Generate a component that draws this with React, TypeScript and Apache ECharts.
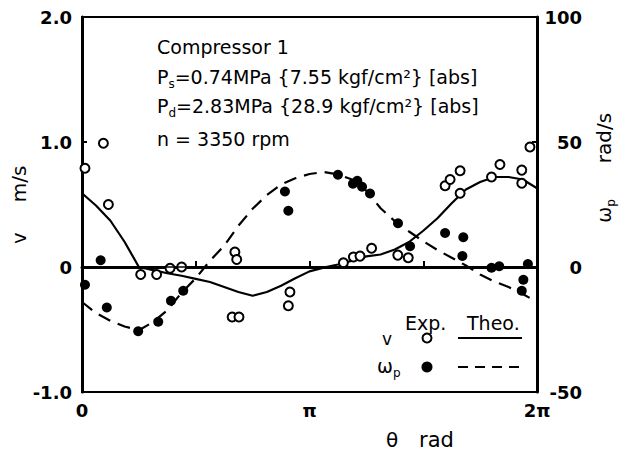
import React, { useEffect, useRef } from "react";
import * as echarts from "echarts";

// θ in units of π, theory curves sampled every π/16
const thetaTheo = [0, 0.0625, 0.125, 0.1875, 0.25, 0.3125, 0.375, 0.4375, 0.5, 0.5625, 0.625, 0.6875, 0.75, 0.8125, 0.875, 0.9375, 1.0, 1.0625, 1.125, 1.1875, 1.25, 1.3125, 1.375, 1.4375, 1.5, 1.5625, 1.625, 1.6875, 1.75, 1.8125, 1.875, 1.9375, 2.0];
const vTheo = [0.59, 0.49, 0.37, 0.20, 0.0, -0.025, -0.05, -0.07, -0.095, -0.12, -0.16, -0.20, -0.23, -0.20, -0.15, -0.09, -0.035, -0.005, 0.02, 0.05, 0.085, 0.10, 0.14, 0.20, 0.29, 0.39, 0.51, 0.62, 0.68, 0.72, 0.72, 0.70, 0.63];
const wTheo = [-14, -18.5, -21.5, -23.8, -25.3, -22, -17.3, -10.3, -4.5, 2.5, 8.5, 16.5, 23.3, 28.8, 33, 35.5, 37.2, 38, 37, 35, 30.5, 23.5, 18.3, 14.2, 10.3, 6.8, 3.7, 0.6, -3, -5.8, -8, -10.8, -14];

const thetaVExp = [0.013, 0.094, 0.116, 0.258, 0.328, 0.387, 0.438, 0.672, 0.680, 0.66, 0.69, 0.914, 0.907, 1.149, 1.193, 1.222, 1.273, 1.388, 1.434, 1.596, 1.618, 1.662, 1.662, 1.80, 1.837, 1.933, 1.933, 1.969];
const vExp = [0.79, 0.99, 0.50, -0.06, -0.06, -0.01, 0.0, 0.12, 0.06, -0.40, -0.40, -0.20, -0.31, 0.034, 0.08, 0.087, 0.15, 0.095, 0.074, 0.65, 0.70, 0.77, 0.59, 0.72, 0.82, 0.775, 0.67, 0.96];

const thetaWExp = [0.013, 0.082, 0.109, 0.247, 0.335, 0.391, 0.445, 0.892, 0.907, 1.125, 1.191, 1.21, 1.231, 1.266, 1.389, 1.442, 1.596, 1.676, 1.672, 1.80, 1.834, 1.96, 1.94, 1.933];
const wExp = [-7.1, 2.7, -16.2, -25.7, -21.9, -13.5, -9.5, 30.2, 22.5, 36.9, 33.3, 34.5, 32.1, 29.4, 17.5, 8.3, 13.6, 11.9, 4.4, -0.3, 0.3, 1.2, -5.1, -9.5];

const xTickLabels: Record<string, string> = { "0": "0", "1": "π", "2": "2π" };

const FONT = "DejaVu Sans";

export default function App() {
  const ref = useRef<HTMLDivElement>(null);
  useEffect(() => {
    if (!ref.current) return;
    const chart = echarts.init(ref.current, null, { renderer: "svg" });
    const zip = (xs: number[], ys: number[]) => xs.map((x, i) => [x, ys[i]]);
    const txt = (x: number, y: number, text: string, extra: any = {}) => {
      const fs = extra.fontSize || 16;
      return {
        type: "text",
        x,
        y,
        rotation: extra.rotation || 0,
        style: {
          text,
          fill: "#000",
          fontFamily: FONT,
          fontSize: fs,
          align: extra.align || "left",
          verticalAlign: "middle",
          rich: {
            sub: { fontSize: Math.round(fs * 0.62), lineHeight: 12, verticalAlign: "bottom", fontFamily: FONT },
            n: { fontSize: fs, lineHeight: fs + 6, fontFamily: FONT },
          },
        },
      };
    };
    const option: any = {
      animation: false,
      backgroundColor: "#fff",
      grid: { left: 82, right: 95, top: 17, bottom: 61, show: true, borderColor: "#000", borderWidth: 2 },
      xAxis: {
        type: "value",
        min: 0,
        max: 2,
        interval: 0.5,
        axisLine: { show: true, lineStyle: { color: "#000", width: 3 } },
        axisTick: { show: true, inside: true, length: 6, lineStyle: { color: "#000", width: 2 } },
        splitLine: { show: false },
        axisLabel: {
          margin: 9,
          color: "#000",
          fontFamily: FONT,
          fontSize: 18,
          fontWeight: "bold",
          formatter: (v: number) => xTickLabels[String(v)] ?? "",
        },
      },
      yAxis: [
        {
          type: "value",
          min: -1,
          max: 2,
          interval: 1,
          axisLine: { show: true, lineStyle: { color: "#000", width: 3 } },
          axisTick: { show: true, inside: true, length: 5, lineStyle: { color: "#000", width: 2 } },
          splitLine: { show: false },
          axisLabel: {
            margin: 10,
            color: "#000",
            fontFamily: FONT,
            fontSize: 18,
            fontWeight: "bold",
            formatter: (v: number) => (v === 0 ? "0" : v.toFixed(1)),
          },
        },
        {
          type: "value",
          min: -50,
          max: 100,
          interval: 50,
          position: "right",
          axisLine: { show: true, lineStyle: { color: "#000", width: 3 } },
          axisTick: { show: true, inside: true, length: 5, lineStyle: { color: "#000", width: 2 } },
          splitLine: { show: false },
          axisLabel: {
            margin: 45,
            align: "right",
            color: "#000",
            fontFamily: FONT,
            fontSize: 18,
            fontWeight: "bold",
            formatter: (v: number) => String(v),
          },
        },
      ],
      series: [
        {
          type: "line",
          yAxisIndex: 0,
          data: zip(thetaTheo, vTheo),
          smooth: false,
          showSymbol: false,
          symbol: "none",
          lineStyle: { color: "#000", width: 2.2, type: "solid", join: "round" },
          markLine: {
            silent: true,
            symbol: ["none", "none"],
            label: { show: false },
            lineStyle: { color: "#000", width: 1.5, type: "solid" },
            data: [{ yAxis: 0 }],
          },
          z: 2,
        },
        {
          type: "line",
          yAxisIndex: 1,
          data: zip(thetaTheo, wTheo),
          smooth: false,
          showSymbol: false,
          symbol: "none",
          lineStyle: { color: "#000", width: 2.2, type: [13, 8], join: "round" },
          z: 2,
        },
        {
          type: "scatter",
          yAxisIndex: 0,
          data: zip(thetaVExp, vExp),
          symbol: "circle",
          symbolSize: 9,
          itemStyle: { color: "#fff", borderColor: "#000", borderWidth: 2, opacity: 1 },
          z: 3,
        },
        {
          type: "scatter",
          yAxisIndex: 1,
          data: zip(thetaWExp, wExp),
          symbol: "circle",
          symbolSize: 10,
          itemStyle: { color: "#000", opacity: 1 },
          z: 4,
        },
      ],
      graphic: [
        txt(157, 47, "Compressor 1", { fontSize: 19 }),
        txt(157, 77, "{n|P}{sub|s}=0.74MPa {7.55 kgf/cm²} [abs]", { fontSize: 19 }),
        txt(157, 106, "{n|P}{sub|d}=2.83MPa {28.9 kgf/cm²} [abs]", { fontSize: 19 }),
        txt(157, 139, "n = 3350 rpm", { fontSize: 19 }),
        // legend
        txt(405, 323, "Exp.", { fontSize: 19 }),
        txt(467, 323, "Theo.", { fontSize: 19 }),
        txt(382, 339, "v", { fontSize: 17 }),
        txt(377, 366, "{n|ω}{sub|p}", { fontSize: 19 }),
        {
          type: "circle",
          shape: { cx: 427, cy: 338, r: 4.5 },
          style: { fill: "#fff", stroke: "#000", lineWidth: 2 },
        },
        {
          type: "circle",
          shape: { cx: 427, cy: 367, r: 5.5 },
          style: { fill: "#000" },
        },
        {
          type: "line",
          shape: { x1: 458, y1: 338, x2: 522, y2: 338 },
          style: { stroke: "#000", lineWidth: 2 },
        },
        {
          type: "line",
          shape: { x1: 458, y1: 367, x2: 525, y2: 367 },
          style: { stroke: "#000", lineWidth: 2, lineDash: [10, 7] },
        },
        // axis names
        txt(386, 440, "θ", { fontSize: 20 }),
        txt(419, 440, "rad", { fontSize: 21 }),
        txt(19, 238, "v", { fontSize: 19, rotation: Math.PI / 2, align: "center" }),
        txt(19, 184, "m/s", { fontSize: 20, rotation: Math.PI / 2, align: "center" }),
        txt(604, 211, "{n|ω}{sub|p}", { fontSize: 19, rotation: Math.PI / 2, align: "center" }),
        txt(604, 138, "rad/s", { fontSize: 20, rotation: Math.PI / 2, align: "center" }),
      ],
    };
    chart.setOption(option);
    return () => chart.dispose();
  }, []);
  return (
    <div
      ref={ref}
      style={{ position: "fixed", left: 0, top: 0, width: 632, height: 453, background: "#fff" }}
    />
  );
}
